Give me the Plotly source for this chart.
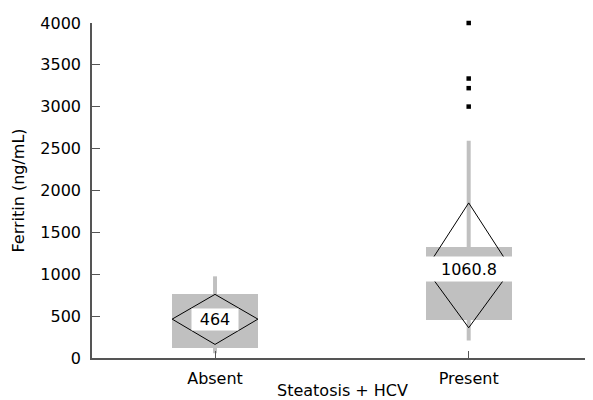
import plotly.graph_objects as go

categories = ["Absent", "Present"]
x_pos = [0, 1]
q1 = [122, 457]
q3 = [768, 1331]
whisker_low = [57, 209]
whisker_high = [975, 2595]
means = [464, 1060.8]
ci_low = [162, 361]
ci_high = [760, 1852]
mean_labels = ["464", "1060.8"]
outlier_x = [1, 1, 1, 1]
outlier_y = [4000, 3337, 3222, 3002]
y_ticks = [0, 500, 1000, 1500, 2000, 2500, 3000, 3500, 4000]

GREY = "#c0c0c0"
AX = "#555555"
FONT = "DejaVu Sans"
BW = 0.338

fig = go.Figure()

# whiskers
for xp, lo, hi in zip(x_pos, whisker_low, whisker_high):
    fig.add_trace(go.Scatter(x=[xp, xp], y=[lo, hi], mode="lines",
                             line=dict(color=GREY, width=4), hoverinfo="skip",
                             showlegend=False))

# boxes
fig.add_trace(go.Bar(x=x_pos, base=q1, y=[b - a for a, b in zip(q1, q3)],
                     width=BW, marker=dict(color=GREY, line=dict(width=0)),
                     showlegend=False))

# diamonds
for xp, m, lo, hi in zip(x_pos, means, ci_low, ci_high):
    fig.add_trace(go.Scatter(
        x=[xp - BW / 2, xp, xp + BW / 2, xp, xp - BW / 2],
        y=[m, hi, m, lo, m], mode="lines",
        line=dict(color="black", width=1), hoverinfo="skip", showlegend=False))

# outliers
fig.add_trace(go.Scatter(x=outlier_x, y=outlier_y, mode="markers",
                         marker=dict(symbol="square", size=4.5, color="black"),
                         cliponaxis=False, showlegend=False))

label_w = [44, 86]
label_h = [19, 22]
for xp, m, t, w, h in zip(x_pos, means, mean_labels, label_w, label_h):
    fig.add_annotation(x=xp, y=m, text=t, showarrow=False, bgcolor="white",
                       width=w, height=h, borderpad=1,
                       font=dict(family=FONT, size=16, color="black"))

fig.update_layout(
    width=585, height=392,
    margin=dict(l=84, r=0, t=15, b=42),
    paper_bgcolor="white", plot_bgcolor="white",
    font=dict(family=FONT, size=16, color="black"),
    bargap=0,
    xaxis=dict(range=[-0.485, 1.49], tickvals=x_pos, ticktext=categories,
               showgrid=False, zeroline=False, showline=True, linecolor=AX,
               linewidth=1.5, ticks="inside", ticklen=7, tickcolor=AX,
               ticklabelstandoff=5,
               title=dict(text="Steatosis + HCV", standoff=2,
                          font=dict(family=FONT, size=16))),
    yaxis=dict(range=[0, 4000], tickvals=y_ticks, showgrid=False,
               zeroline=False, showline=True, linecolor=AX, linewidth=1.5,
               ticks="inside", ticklen=8, tickcolor=AX,
               ticklabelstandoff=6,
               title=dict(text="Ferritin (ng/mL)", standoff=12,
                          font=dict(family=FONT, size=16))),
)

fig.write_html("out.html")
